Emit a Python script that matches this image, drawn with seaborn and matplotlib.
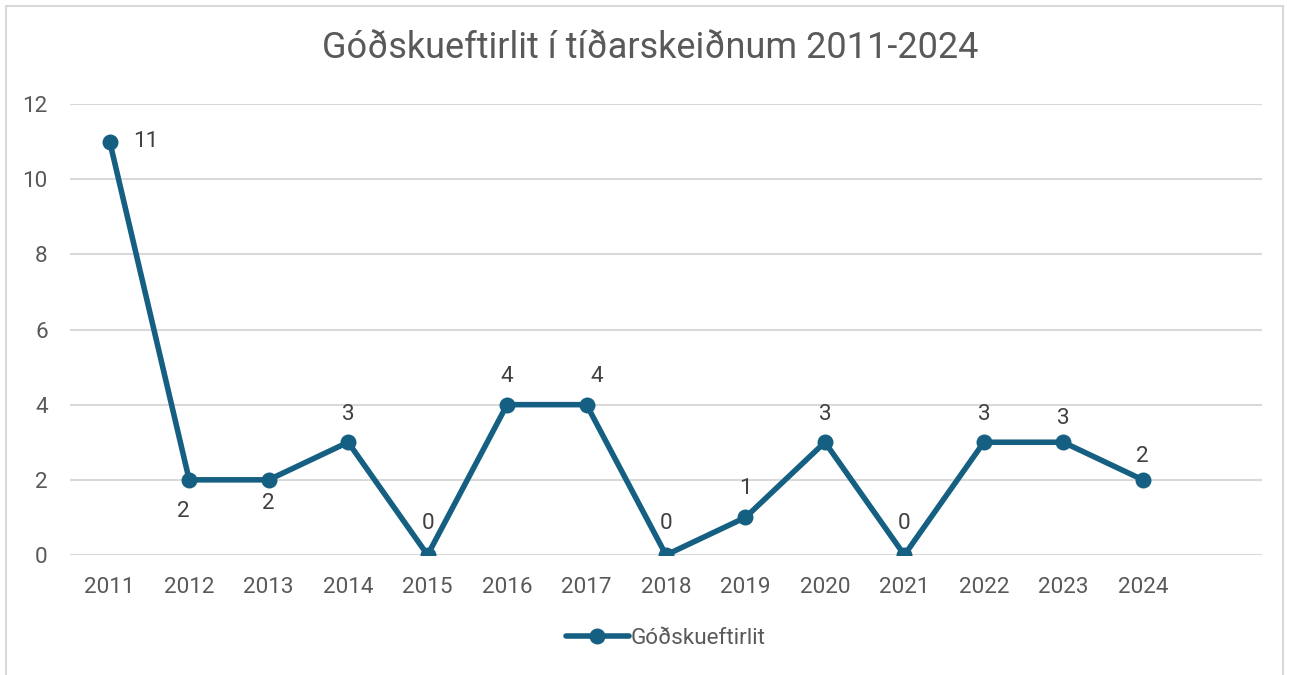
import matplotlib
matplotlib.use("Agg")
import matplotlib.pyplot as plt
import seaborn as sns
import pandas as pd
from matplotlib.patches import Rectangle

# data
years = ['2011', '2012', '2013', '2014', '2015', '2016', '2017',
         '2018', '2019', '2020', '2021', '2022', '2023', '2024']
counts = [11, 2, 2, 3, 0, 4, 4, 0, 1, 3, 0, 3, 3, 2]
series_name = 'Góðskueftirlit'
title = 'Góðskueftirlit í tíðarskeiðnum 2011-2024'

# where each data label sits relative to its point (points)
label_offsets = [(26, 0), (-4, -23), (0, -17), (0, 20), (0, 23), (0, 20), (7, 20),
                 (0, 23), (0, 21), (0, 20), (0, 23), (0, 20), (0, 17), (0, 17)]

line_color = '#156082'
text_color = '#595959'
fs = 16.2

sns.set_theme(style='white')
plt.rcParams['font.family'] = ['Roboto', 'DejaVu Sans']

df = pd.DataFrame({'year': years, 'count': counts})

fig = plt.figure(figsize=(12.9, 6.75), dpi=100)
ax = fig.add_axes([70 / 1290, 1 - 555 / 675, (1262 - 70) / 1290, (555 - 104) / 675])

sns.lineplot(data=df, x='year', y='count', ax=ax, color=line_color, linewidth=4,
             marker='o', markersize=11.5, markeredgewidth=0, label=series_name,
             sort=False, zorder=3)

ax.set_xlim(-0.5, len(years) + 0.5)
ax.set_ylim(0, 12)
ax.set_yticks(range(0, 13, 2))
ax.yaxis.grid(True, color='#D9D9D9', linewidth=1.5)
ax.set_axisbelow(True)
for s in ax.spines.values():
    s.set_visible(False)
ax.tick_params(axis='both', length=0, labelsize=fs, labelcolor=text_color)
ax.tick_params(axis='x', pad=16)
ax.tick_params(axis='y', pad=16)
ax.set_xlabel('')
ax.set_ylabel('')

for i, (v, off) in enumerate(zip(counts, label_offsets)):
    ax.annotate(str(v), (i, v), xytext=off, textcoords='offset points',
                ha='center', va='center', fontsize=fs, color='#404040')

fig.suptitle(title, x=0.504, y=1 - 48 / 675, va='center', fontsize=26, color=text_color)

leg = ax.legend(loc='center', bbox_to_anchor=(666 / 1290, 1 - 638 / 675),
                bbox_transform=fig.transFigure, frameon=False, fontsize=fs,
                handlelength=2.8, handletextpad=0.1)
for t in leg.get_texts():
    t.set_color(text_color)

fig.patches.append(Rectangle((6 / 1290, -0.02), 1277 / 1290, 1.02 - 6 / 675,
                             transform=fig.transFigure, fill=False,
                             edgecolor='#D9D9D9', linewidth=1.5))

fig.savefig('out.png', dpi=100, facecolor='white')
